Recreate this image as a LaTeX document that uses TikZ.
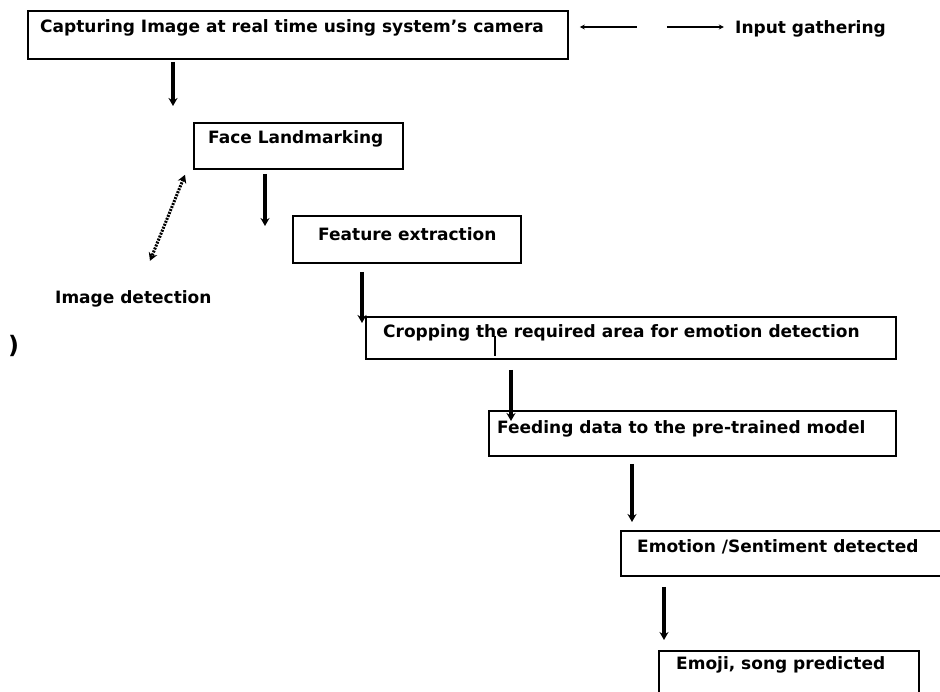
\documentclass[tikz,border=0pt]{standalone}
\usepackage{fontspec}
\setmainfont{DejaVu Sans}
\usetikzlibrary{calc,arrows.meta}
\tikzset{
  box/.style={draw=black,line width=1.8pt,rectangle,inner sep=0pt,anchor=north west},
  lbl/.style={anchor=west,inner sep=0pt,font=\bfseries\fontsize{17}{19}\selectfont},
  flow/.style={line width=3.2pt,-{Stealth[length=8pt,width=9pt]}},
  thinarr/.style={line width=1.2pt,-{Stealth[length=5pt,width=5pt]}},
  dbl/.style={line width=3pt,dash pattern=on 2pt off 1.2pt,{Stealth[length=8pt,width=9pt]}-{Stealth[length=8pt,width=9pt]}}
}
\begin{document}
\begin{tikzpicture}[x=1pt,y=-1pt]
\useasboundingbox (0,0) rectangle (940,691);
% boxes
\node[box,minimum width=540,minimum height=48] (b1) at (27,10) {};
\node[box,minimum width=209,minimum height=46] (b2) at (193,122) {};
\node[box,minimum width=228,minimum height=47] (b3) at (292,215) {};
\node[box,minimum width=530,minimum height=42] (b4) at (365,316) {};
\node[box,minimum width=407,minimum height=45] (b5) at (488,410) {};
\node[box,minimum width=330,minimum height=45] (b6) at (620,530) {};
\node[box,minimum width=260,minimum height=60] (b7) at (658,650) {};
% texts
\node[lbl] (t1) at (40,28) {Capturing Image at real time using system's camera};
\node[lbl] (t2) at (208,139) {Face Landmarking};
\node[lbl] (t3) at (318,234) {Feature extraction};
\node[lbl] (t4) at (383,333) {Cropping the required area for emotion detection};
\node[lbl] (t5) at (497,429) {Feeding data to the pre-trained model};
\node[lbl] (t6) at (637,547) {Emotion /Sentiment detected};
\node[lbl] (t7) at (676,665) {Emoji, song predicted};
\node[lbl] (ig) at (735,29) {Input gathering};
\node[lbl] (id) at (55,299) {Image detection};
\node[lbl,font=\bfseries\fontsize{24}{26}\selectfont] (px) at (8,346) {)};
% input gathering arrows
\coordinate (ia1) at ($(b1.north east)+(68,17)$);
\coordinate (ia2) at ($(b1.north east)+(11,17)$);
\coordinate (ib1) at ($(b1.north east)+(98,17)$);
\coordinate (ib2) at ($(b1.north east)+(155,17)$);
\draw[thinarr] (ia1) -- (ia2);
\draw[thinarr] (ib1) -- (ib2);
% flow arrows
\coordinate (s1) at ($(b1.south west)+(146,2)$);
\coordinate (e1) at ($(b2.north west)+(-20,-16)$);
\draw[flow] (s1) -- (e1);
\coordinate (s2) at ($(b2.south west)+(72,4)$);
\coordinate (e2) at ($(b3.north west)+(-27,11)$);
\draw[flow] (s2) -- (e2);
\coordinate (s3) at ($(b3.south west)+(70,8)$);
\coordinate (e3) at ($(b4.north west)+(-3,7)$);
\draw[flow] (s3) -- (e3);
\coordinate (s4) at ($(b4.south west)+(146,10)$);
\coordinate (e4) at ($(b5.north west)+(23,11)$);
\draw[flow] (s4) -- (e4);
\coordinate (s5) at ($(b5.south west)+(144,7)$);
\coordinate (e5) at ($(b6.north west)+(12,-8)$);
\draw[flow] (s5) -- (e5);
\coordinate (s6) at ($(b6.south west)+(44,10)$);
\coordinate (e6) at ($(b7.north west)+(6,-10)$);
\draw[flow] (s6) -- (e6);
% tick inside cropping box
\coordinate (k1) at ($(b4.north west)+(130,20)$);
\coordinate (k2) at ($(b4.north west)+(130,40)$);
\draw[line width=1.8pt] (k1) -- (k2);
% image detection double arrow
\coordinate (d1) at ($(b2.south west)+(-8,5)$);
\coordinate (d2) at ($(b2.south west)+(-43,91)$);
\draw[dbl] (d1) -- (d2);
\end{tikzpicture}
\end{document}
